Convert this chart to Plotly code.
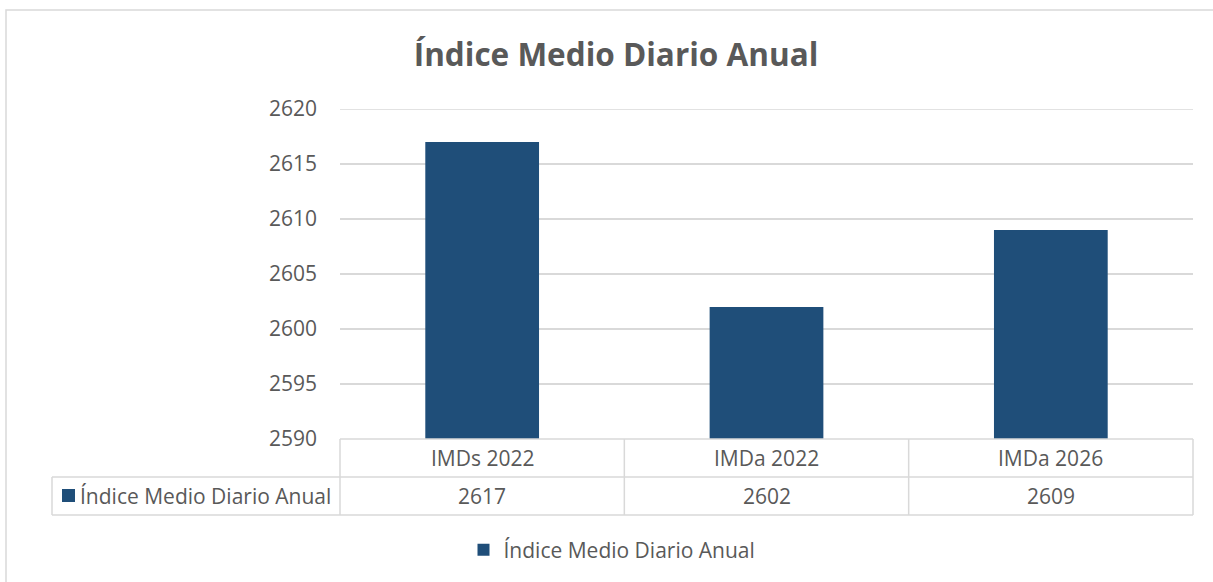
import plotly.graph_objects as go

# Chart data
categories = ["IMDs 2022", "IMDa 2022", "IMDa 2026"]
values = [2617, 2602, 2609]
series_name = "Índice Medio Diario Anual"
chart_title = "Índice Medio Diario Anual"
y_ticks = [2590, 2595, 2600, 2605, 2610, 2615, 2620]

W, H = 1213, 582
L, R, T, B = 340, 20, 109, 143
PW, PH = W - L - R, H - T - B

BAR = "#1f4e79"
TXT = "#595959"
GRID = "#d9d9d9"
FONT = "Open Sans"
FS = 21


def px(x):
    return (x - L) / PW


def py(y):
    return (H - B - y) / PH


fig = go.Figure()
fig.add_trace(go.Bar(x=categories, y=values, name=series_name,
                     marker=dict(color=BAR, line=dict(width=0))))

shapes = []
line = dict(color=GRID, width=1.5)
# outer chart frame
shapes.append(dict(type="rect", xref="paper", yref="paper",
                   x0=px(6), x1=px(1230), y0=py(10), y1=py(600),
                   line=dict(color=GRID, width=1.5), layer="below"))
# top gridline (plotly skips gridlines at the range edge)
shapes.append(dict(type="line", xref="paper", yref="y", x0=0, x1=1,
                   y0=y_ticks[-1], y1=y_ticks[-1], line=line, layer="below"))
# data table grid
for yy in (439, 477, 515):
    x0 = L if yy == 439 else 52
    shapes.append(dict(type="line", xref="paper", yref="paper",
                       x0=px(x0), x1=1, y0=py(yy), y1=py(yy), line=line))
for i in range(len(categories) + 1):
    shapes.append(dict(type="line", xref="paper", yref="paper",
                       x0=i / len(categories), x1=i / len(categories),
                       y0=py(439), y1=py(515), line=line))
shapes.append(dict(type="line", xref="paper", yref="paper",
                   x0=px(52), x1=px(52), y0=py(477), y1=py(515), line=line))
# legend key inside the table
shapes.append(dict(type="rect", xref="paper", yref="paper",
                   x0=px(62), x1=px(75), y0=py(489), y1=py(502),
                   fillcolor=BAR, line=dict(width=0)))

annotations = []
for c, v in zip(categories, values):
    annotations.append(dict(x=c, xref="x", y=py(458), yref="paper",
                            xanchor="center", yanchor="middle",
                            text=c, showarrow=False,
                            font=dict(size=FS, color=TXT, family=FONT)))
    annotations.append(dict(x=c, xref="x", y=py(496), yref="paper",
                            xanchor="center", yanchor="middle",
                            text=str(v), showarrow=False,
                            font=dict(size=FS, color=TXT, family=FONT)))
annotations.append(dict(x=px(78), xref="paper", y=py(496), yref="paper",
                        xanchor="left", yanchor="middle",
                        text=series_name, showarrow=False,
                        font=dict(size=FS, color=TXT, family=FONT)))

fig.update_layout(
    width=W, height=H,
    margin=dict(l=L, r=R, t=T, b=B),
    paper_bgcolor="white", plot_bgcolor="white",
    bargap=0.6,
    title=dict(text="<b>" + chart_title + "</b>", xref="container", yref="container",
               x=616 / W, y=1 - 55 / H, xanchor="center", yanchor="middle",
               font=dict(size=31.5, color=TXT, family=FONT)),
    xaxis=dict(showticklabels=False, showgrid=False, zeroline=False,
               showline=False, ticks=""),
    yaxis=dict(range=[2590, 2620], tickvals=y_ticks, showgrid=True,
               gridcolor=GRID, gridwidth=1.5, zeroline=False, showline=False,
               ticks="", ticklabelstandoff=22,
               tickfont=dict(size=FS, color=TXT, family=FONT)),
    showlegend=True,
    legend=dict(orientation="h", xref="container", yref="container",
                x=612 / W, y=1 - 550 / H, xanchor="center", yanchor="middle",
                font=dict(size=FS, color=TXT, family=FONT)),
    shapes=shapes,
    annotations=annotations,
)

fig.write_html("out.html")
